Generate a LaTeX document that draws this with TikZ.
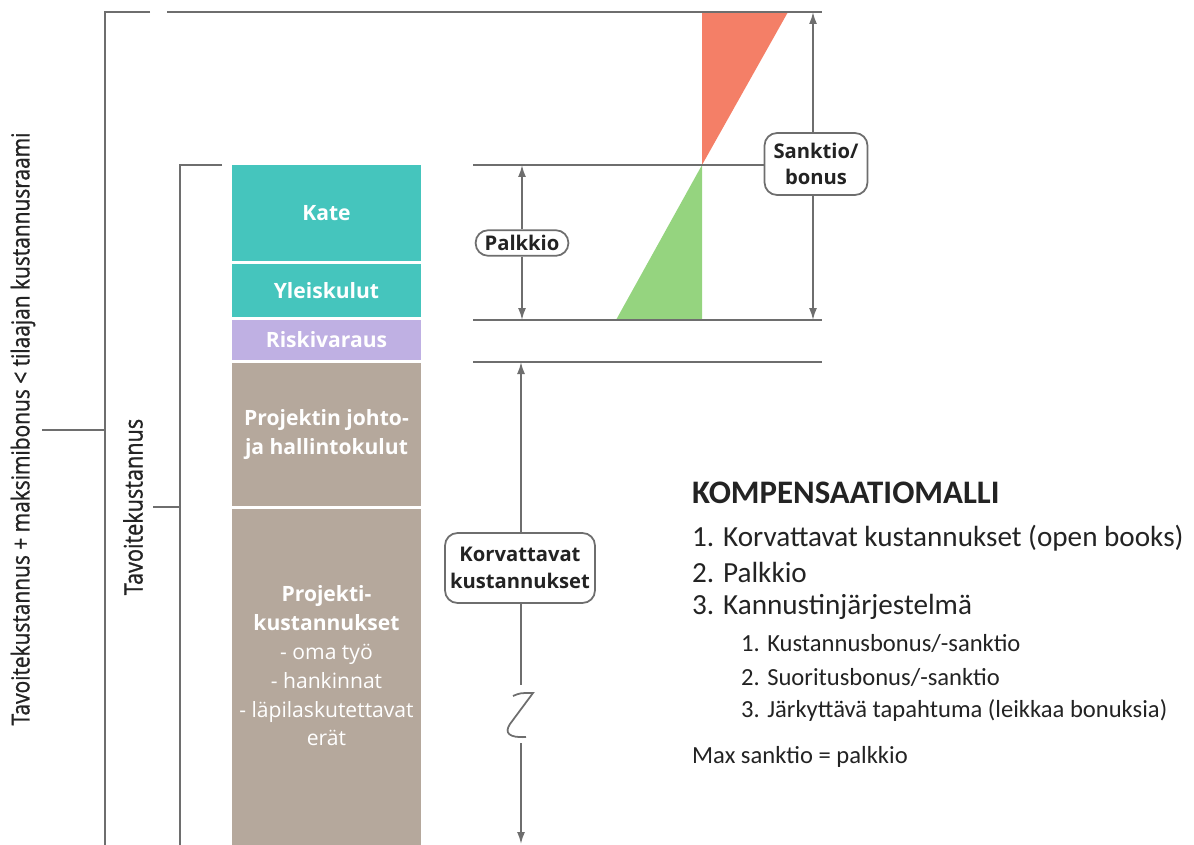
\documentclass[tikz,border=0pt]{standalone}
\usepackage{fontspec}
\setmainfont{Open Sans}
\newfontfamily\listfont{Carlito}
\newfontfamily\narrowfont{Open Sans}[FakeStretch=0.85,FakeBold=1]
\usepackage{xcolor}
\usetikzlibrary{positioning,arrows.meta}
\definecolor{tealc}{RGB}{69,197,189}
\definecolor{lilac}{RGB}{191,176,227}
\definecolor{taupe}{RGB}{181,168,156}
\definecolor{redc}{RGB}{244,127,103}
\definecolor{greenc}{RGB}{149,212,127}
\definecolor{lgrey}{RGB}{110,110,110}
\definecolor{tdark}{RGB}{35,35,35}

\begin{document}
\begin{tikzpicture}[x=0.02cm,y=-0.02cm,ln/.style={draw=lgrey,line width=1pt},blk/.style={inner sep=0pt,minimum width=3.78cm,align=center,text=white,font=\fontsize{12}{16.5}\selectfont\bfseries},tag/.style={draw=lgrey,line width=1pt,rounded corners=0.25cm,fill=white,align=center,text=tdark,inner xsep=0.18cm,inner ysep=0.1cm,font=\fontsize{11.5}{15}\selectfont\bfseries},li/.style={anchor=west,text=tdark,font=\listfont\fontsize{16.6}{20}\selectfont},sub/.style={li,font=\listfont\fontsize{14}{17}\selectfont},>={Latex[length=2.4mm,width=1.6mm]}]
\useasboundingbox (0,0) rectangle (1194,845);

% cost column
\node[blk,fill=tealc,minimum height=1.92cm] (kate) at (326.5,213) {Kate};
\node[blk,fill=tealc,minimum height=1.06cm] (yleis) at (326.5,290.5) {Yleiskulut};
\node[blk,fill=lilac,minimum height=0.8cm] (riski) at (326.5,340) {Riskivaraus};
\node[blk,fill=taupe,minimum height=2.86cm] (johto) at (326.5,434.5) {Projektin johto-\\ja hallintokulut};
\node[blk,fill=taupe,minimum height=6.72cm] (proj) at (326.5,677) {Projekti-\\kustannukset\\\textmd{- oma työ}\\\textmd{- hankinnat}\\\textmd{- läpilaskutettavat}\\\textmd{erät}\\[-0.12cm]};

% triangles
\fill[redc] (702,12) -- (788,12) -- (702,165) -- cycle;
\fill[greenc] (702,165) -- (702,320) -- (616,320) -- cycle;

% brackets
\coordinate (otop) at (105,12); \coordinate (obot) at (105,845); \coordinate (otick) at (105,430);
\coordinate (itop) at (180,165); \coordinate (ibot) at (180,845); \coordinate (itick) at (180,507);
\draw[ln] (150,12) -- (otop) -- (obot); \draw[ln] (42,430) -- (otick);
\draw[ln] (222,165) -- (itop) -- (ibot); \draw[ln] (153,507) -- (itick);
\node[rotate=90,text=tdark,font=\narrowfont\fontsize{14}{16}\selectfont] (outer) at (23,429) {Tavoitekustannus + maksimibonus < tilaajan kustannusraami};
\node[rotate=90,text=tdark,font=\narrowfont\fontsize{14.5}{16}\selectfont] (inner) at (133,507) {Tavoitekustannus};

% levels
\node[tag,minimum height=1.24cm] (sanktio) at (816,164) {Sanktio/\\bonus};
\coordinate (top) at (822,12); \coordinate (sbot) at (813,320); \coordinate (stop) at (813,12);
\draw[ln] (167,12) -- (top);
\draw[ln] (473,165) -- (sanktio.west |- 0,165);
\draw[ln] (473,320) -- (822,320);
\draw[ln] (473,362) -- (822,362);
\draw[ln,->] (sanktio.north -| stop) -- (stop); \draw[ln,->] (sanktio.south -| sbot) -- (sbot);

\node[tag] (palkkio) at (522,243) {Palkkio};
\coordinate (ptop) at (522,165); \coordinate (pbot) at (522,320);
\draw[ln,->] (palkkio) -- (ptop); \draw[ln,->] (palkkio) -- (pbot);

\node[tag,minimum height=1.4cm,inner xsep=0.1cm] (korv) at (520,568) {Korvattavat\\kustannukset};
\coordinate (ktop) at (521,362); \coordinate (kcut) at (521,685); \coordinate (kres) at (521,743); \coordinate (kbot) at (521,844);
\draw[ln,->] (korv.north -| ktop) -- (ktop); \draw[ln] (korv.south -| kcut) -- (kcut);
\draw[ln] (513,696) .. controls (520,693) .. (533,693) -- (510,724) .. controls (504,733) and (509,738) .. (526,737);
\draw[ln,->] (kres) -- (kbot);

% compensation model
\node[li,font=\listfont\fontsize{18.7}{22}\selectfont\bfseries] (title) at (686,493) {KOMPENSAATIOMALLI};
\node[li] (k1) at (686,538) {1. Korvattavat kustannukset (open books)};
\node[li] (k2) at (686,572) {2. Palkkio};
\node[li] (k3) at (686,607) {3. Kannustinjärjestelmä};
\node[sub] (s1) at (735,643) {1. Kustannusbonus/-sanktio};
\node[sub] (s2) at (735,677) {2. Suoritusbonus/-sanktio};
\node[sub] (s3) at (735,710) {3. Järkyttävä tapahtuma (leikkaa bonuksia)};
\node[sub] (maxs) at (686,757) {Max sanktio = palkkio};
\end{tikzpicture}
\end{document}
